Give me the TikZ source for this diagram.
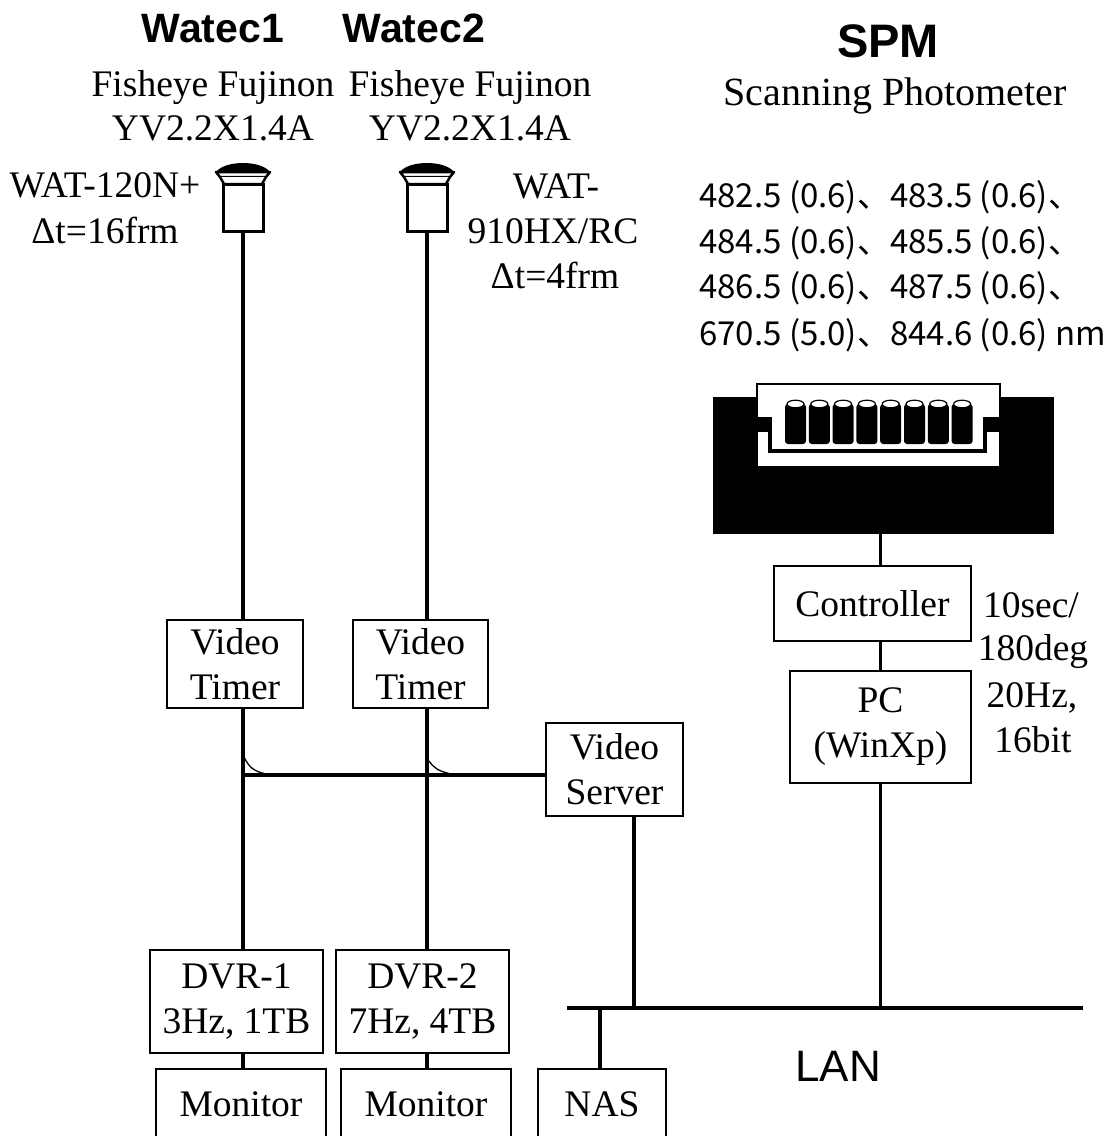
\documentclass[tikz,border=0pt]{standalone}
\usepackage{fontspec}
\setmainfont{Liberation Serif}
\newfontfamily\arialf{Liberation Sans}
\newfontfamily\gothic{Noto Sans CJK JP}
\begin{document}
\begin{tikzpicture}[x=1pt,y=-1pt,
  box/.style={draw, line width=1.5pt, fill=white, inner sep=0pt, align=center, font=\fontsize{37.5}{45}\selectfont},
  wire/.style={line width=3.8pt},
  jump/.style={line width=1.3pt},
  lbl/.style={inner sep=0pt, anchor=base, font=\fontsize{37.5}{45}\selectfont},
  ttl/.style={inner sep=0pt, anchor=base, font=\fontsize{41}{48}\selectfont\arialf\bfseries},
  wl/.style={inner sep=0pt, anchor=base west, font=\fontsize{33}{46}\selectfont\gothic},
  camera/.pic={
    \fill[black] (-27,172) .. controls (-18,160) and (18,160) .. (27,172) -- cycle;
    \draw[line width=2.5pt, fill=white, line join=round] (-27,172) -- (27,172) -- (23,177) -- (-23,177) -- cycle;
    \draw[line width=2.5pt, fill=white] (-23,177) -- (-19,184) -- (19,184) -- (23,177);
    \draw[line width=3pt, fill=white] (-20,184) rectangle (20,231);
  }
]
\useasboundingbox (0,0) rectangle (1105,1136);

% titles
\node[ttl] (t1) at (213,42) {Watec1};
\node[ttl] (t2) at (414,42) {Watec2};
\node[ttl, font=\fontsize{47}{52}\selectfont\arialf\bfseries] (t3) at (888,57) {SPM};
\node[lbl] (f1) at (213,96) {Fisheye Fujinon};
\node[lbl] (y1) at (213,140) {YV2.2X1.4A};
\node[lbl] (f2) at (470,96) {Fisheye Fujinon};
\node[lbl] (y2) at (470,140) {YV2.2X1.4A};
\node[lbl, font=\fontsize{40}{48}\selectfont] (sp) at (895,105) {Scanning Photometer};
\node[lbl] (w1a) at (105,197) {WAT-120N+};
\node[lbl] (w1b) at (105,243) {Δt=16frm};
\node[lbl] (w2a) at (556,198) {WAT-};
\node[lbl] (w2b) at (553,243) {910HX/RC};
\node[lbl] (w2c) at (555,288) {Δt=4frm};

% wavelengths
\node[wl] (l1) at (699,207) {482.5 (0.6)、483.5 (0.6)、};
\node[wl] (l2) at (699,253) {484.5 (0.6)、485.5 (0.6)、};
\node[wl] (l3) at (699,298) {486.5 (0.6)、487.5 (0.6)、};
\node[wl] (l4) at (699,345) {670.5 (5.0)、844.6 (0.6) nm};

% cameras
\pic at (243,0) {camera};
\pic at (427,0) {camera};
\coordinate (cam1) at (243,231);
\coordinate (cam2) at (427,231);

% SPM instrument
\node[fill=black, minimum width=341pt, minimum height=137pt, inner sep=0pt] (spm) at (883.5,465.5) {};
\draw[line width=1.5pt, fill=white] (757,384) rectangle (1000,467);
\fill[black] (756,417) rectangle (770,432);
\fill[black] (985,417) rectangle (1001,432);
\draw[line width=3.3pt] (770,417) -- (770,451) -- (985,451) -- (985,417);
\foreach \i in {0,...,7}{
  \pgfmathsetmacro\cx{795.5+\i*23.8}
  \fill[black, rounded corners=3pt] (\cx-10.5,404) rectangle (\cx+10.5,444);
  \draw[line width=1.2pt, fill=white] (\cx,404) ellipse [x radius=8.5pt, y radius=3.8pt];
}

% boxes
\node[box, minimum width=136pt, minimum height=88pt] (vt1) at (235,664) {Video\\Timer};
\node[box, minimum width=135pt, minimum height=88pt] (vt2) at (420.5,664) {Video\\Timer};
\node[box, minimum width=137pt, minimum height=93pt] (vs) at (614.5,769.5) {Video\\Server};
\node[box, minimum width=173pt, minimum height=103pt] (dvr1) at (236.5,1001.5) {DVR-1\\3Hz, 1TB};
\node[box, minimum width=173pt, minimum height=103pt] (dvr2) at (422.5,1001.5) {DVR-2\\7Hz, 4TB};
\node[box, minimum width=170pt, minimum height=71pt] (mon1) at (241,1104.5) {Monitor};
\node[box, minimum width=170pt, minimum height=71pt] (mon2) at (426,1104.5) {Monitor};
\node[box, minimum width=128pt, minimum height=71pt] (nas) at (602,1104.5) {NAS};
\node[box, minimum width=197pt, minimum height=75pt] (ctrl) at (872.5,603.5) {Controller};
\node[box, minimum width=181pt, minimum height=112pt] (pc) at (880.5,727) {PC\\(WinXp)};

\node[lbl] (s1) at (1031,617) {10sec/};
\node[lbl] (s2) at (1033,660) {180deg};
\node[lbl] (s3) at (1032,707) {20Hz,};
\node[lbl] (s4) at (1033,752) {16bit};
\node[inner sep=0pt, anchor=base, font=\fontsize{44}{50}\selectfont\arialf] (lan) at (838,1081) {LAN};

% connectors
\coordinate (hj) at (243,775);
\coordinate (vsx) at (634,1008);
\coordinate (lanL) at (567,1008);
\coordinate (lanR) at (1083,1008);
\coordinate (nasx) at (600,1008);

\draw[wire] (cam1) -- (cam1 |- vt1.north);
\draw[wire] (cam1 |- vt1.south) -- (cam1 |- dvr1.north);
\draw[wire] (cam1 |- dvr1.south) -- (cam1 |- mon1.north);
\draw[wire] (cam2) -- (cam2 |- vt2.north);
\draw[wire] (cam2 |- vt2.south) -- (cam2 |- dvr2.north);
\draw[wire] (cam2 |- dvr2.south) -- (cam2 |- mon2.north);
\draw[wire] (hj) -- (vs.west |- hj);
\draw[jump] (244,757) .. controls (249,767) and (253,771) .. (266,774);
\draw[jump] (429,761) .. controls (434,768) and (438,771) .. (451,774);
\draw[wire] (vs.south -| vsx) -- (vsx);
\draw[wire] (lanL) -- (lanR);
\draw[wire] (nasx) -- (nasx |- nas.north);
\draw[wire] (spm.south -| pc.north) -- (ctrl.north -| pc.north);
\draw[wire] (ctrl.south -| pc.north) -- (pc.north);
\draw[wire] (pc.south) -- (pc.south |- lanL);
\end{tikzpicture}
\end{document}
